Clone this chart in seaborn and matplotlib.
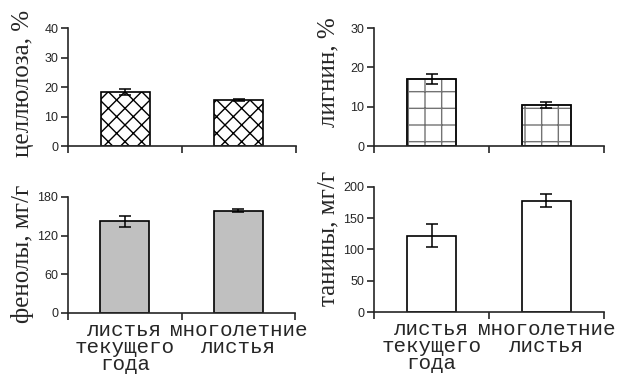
import numpy as np
import pandas as pd
import seaborn as sns
from matplotlib import pyplot as plt

# categories and measured values (mean +/- error)
categories = ['листья\nтекущего\nгода', 'многолетние\nлистья']

cellulose = [18.3, 15.7]
cellulose_err = [0.9, 0.4]

lignin = [17.0, 10.5]
lignin_err = [1.2, 0.8]

phenols = [142, 159]
phenols_err = [9, 2]

tannins = [122, 178]
tannins_err = [18, 10]

sns.set_style('ticks')
plt.rcParams['font.family'] = ['Liberation Sans', 'DejaVu Sans']
plt.rcParams['hatch.linewidth'] = 1.0

fig = plt.figure(figsize=(6.27, 3.77), dpi=100)

panels = [
    # values, errors, ylabel, yticks, fill, hatch, rect, label y
    (cellulose, cellulose_err, 'целлюлоза, %', [0, 10, 20, 30, 40], 'white', 'xx',
     [0.1085, 0.6127, 0.3635, 0.313], 0.53),
    (lignin, lignin_err, 'лигнин, %', [0, 10, 20, 30], 'white', '+',
     [0.5965, 0.6127, 0.3668, 0.313], 0.63),
    (phenols, phenols_err, 'фенолы, мг/г', [0, 60, 120, 180], '#c0c0c0', None,
     [0.1085, 0.1698, 0.362, 0.3077], 0.51),
    (tannins, tannins_err, 'танины, мг/г', [0, 50, 100, 150, 200], 'white', None,
     [0.5965, 0.1724, 0.3668, 0.3316], 0.59),
]

for i, (vals, errs, ylab, yticks, fill, hatch, rect, ly) in enumerate(panels):
    ax = fig.add_axes(rect)
    df = pd.DataFrame({'cat': categories, 'val': vals})
    edge = '0.45' if hatch == '+' else 'black'
    sns.barplot(data=df, x='cat', y='val', ax=ax, color=fill, saturation=1,
                edgecolor=edge, linewidth=1.2, width=0.43, errorbar=None,
                hatch=hatch)
    if hatch == '+':
        # dotted-looking grid: grey hatch, black outline drawn on top
        ax.bar(range(len(vals)), vals, width=0.43, fill=False,
               edgecolor='black', linewidth=1.2)
    ax.errorbar(range(len(vals)), vals, yerr=errs, fmt='none', ecolor='black',
                elinewidth=1.1, capsize=4, capthick=1.1)

    ax.set_xlim(-0.5, 1.5)
    ax.set_ylim(yticks[0], yticks[-1])
    ax.set_yticks(yticks)
    ax.set_xticks([0, 1])
    ax.set_xticks([-0.5, 0.5, 1.5], minor=True)
    ax.tick_params(axis='x', which='major', length=0, pad=6)
    ax.tick_params(axis='x', which='minor', length=5, width=1.2, direction='out')
    ax.tick_params(axis='y', length=5, width=1.2, labelsize=9, pad=2)
    if i < 2:
        ax.set_xticklabels([])
    else:
        ax.set_xticklabels(categories, family='Liberation Mono', fontsize=15,
                           linespacing=0.85)
    ax.set_xlabel('')
    ax.set_ylabel(ylab, family='Liberation Serif', fontsize=18)
    ax.yaxis.set_label_coords(-0.15, ly)
    for s in ['left', 'bottom']:
        ax.spines[s].set_linewidth(1.2)
    sns.despine(ax=ax)

fig.savefig('out.png', dpi=100)
